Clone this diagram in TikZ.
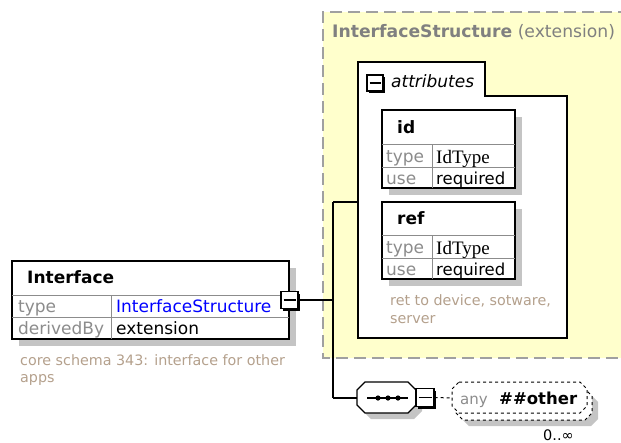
\documentclass[tikz,border=0pt]{standalone}
\usepackage{fontspec}
\setmainfont{DejaVu Sans}
\newfontfamily\serifid{Liberation Serif}
\usetikzlibrary{shadows,calc}
\definecolor{ylw}{RGB}{255,255,204}
\definecolor{dashgray}{RGB}{160,160,160}
\definecolor{shd}{RGB}{196,196,196}
\definecolor{cmt}{RGB}{180,160,140}
\definecolor{lbl}{RGB}{140,140,140}
\definecolor{ttlgray}{RGB}{128,128,128}
\definecolor{tblue}{RGB}{0,0,255}
\begin{document}
\begin{tikzpicture}[x=1pt,y=-1pt,
  tbl/.style={draw=black, line width=1.5pt, fill=white, inner sep=0pt,
    drop shadow={shadow xshift=7pt, shadow yshift=-7pt, fill=shd, opacity=1}},
  gline/.style={draw=lbl, line width=1pt},
  conn/.style={draw=black, line width=1.5pt},
  txt/.style={anchor=base west, inner sep=0pt, font=\fontsize{17}{20}\selectfont},
  keyt/.style={txt, text=lbl},
  hdr/.style={anchor=base west, inner sep=0pt, font=\fontsize{17}{20}\selectfont\bfseries},
  cmtt/.style={anchor=base west, inner sep=0pt, text=cmt, font=\fontsize{14.3}{17}\selectfont},
  mbx/.style={draw=black, fill=white, line width=1.2pt, inner sep=0pt,
    minimum width=16pt, minimum height=16pt,
    drop shadow={shadow xshift=2pt, shadow yshift=-2pt, fill=black, opacity=1},
    path picture={\draw[line width=1.2pt] ($(path picture bounding box.west)+(2.5pt,0)$) -- ($(path picture bounding box.east)+(-2.5pt,0)$);}}
]
\useasboundingbox (0,0) rectangle (621,442);

% yellow complex type region
\fill[ylw] (323,12) rectangle (630,358);
\draw[dashgray, line width=1.5pt, dash pattern=on 12pt off 6pt] (630,12) -- (323,12) -- (323,358) -- (630,358);
\node[anchor=base west, inner sep=0pt, text=ttlgray, font=\fontsize{17.2}{20}\selectfont] (ttl) at (332,37) {\textbf{InterfaceStructure} (extension)};

% attributes group
\draw[line width=1.5pt, fill=white] (358,62) -- (485,62) -- (485,96) -- (567,96) -- (567,338) -- (358,338) -- cycle;
\coordinate (attrW) at (358,202);
\node[mbx] (amin) at (375,83) {};
\node[anchor=base west, inner sep=0pt, font=\fontsize{17}{20}\itshape] (attrt) at (391,87) {attributes};

% id attribute
\node[tbl, minimum width=133pt, minimum height=78pt] (idt) at (448.5,149) {};
\draw[gline] (382,144) -- (515,144) (382,167) -- (515,167) (432,144) -- (432,188);
\node[hdr] (idh) at (397,133) {id};
\node[keyt] (idk1) at (386,162) {type};
\node[anchor=base west, inner sep=0pt, font=\fontsize{19}{20}\serifid] (idv1) at (436,163) {IdType};
\node[keyt] (idk2) at (386,184) {use};
\node[txt, font=\fontsize{16.5}{20}\selectfont] (idv2) at (436,184) {required};

% ref attribute
\node[tbl, minimum width=133pt, minimum height=77pt] (reft) at (448.5,240.5) {};
\draw[gline] (382,235) -- (515,235) (382,258) -- (515,258) (432,235) -- (432,279);
\node[hdr] (refh) at (397,224) {ref};
\node[keyt] (refk1) at (386,253) {type};
\node[anchor=base west, inner sep=0pt, font=\fontsize{19}{20}\serifid] (refv1) at (436,254) {IdType};
\node[keyt] (refk2) at (386,275) {use};
\node[txt, font=\fontsize{16.5}{20}\selectfont] (refv2) at (436,275) {required};
\node[cmtt] (refc1) at (390,305) {ret to device, sotware,};
\node[cmtt] (refc2) at (390,323) {server};

% Interface element
\node[tbl, minimum width=277pt, minimum height=78pt] (iface) at (150.5,300) {};
\draw[gline] (12,295) -- (289,295) (12,317) -- (289,317) (111,295) -- (111,339);
\node[hdr] (ifh) at (27,283) {Interface};
\node[keyt] (ifk1) at (18,312) {type};
\node[txt, text=tblue] (ifv1) at (116,312) {InterfaceStructure};
\node[keyt] (ifk2) at (18,334) {derivedBy};
\node[txt] (ifv2) at (116,334) {extension};
\node[cmtt] (ifc1) at (20,365) {core schema 343: interface for other};
\node[cmtt] (ifc2) at (20,382) {apps};
\node[mbx, minimum width=17pt, minimum height=17pt] (imin) at (289.5,300) {};

% connectors
\coordinate (j1) at (333,300);
\coordinate (j2) at (333,202);
\coordinate (j3) at (333,398);
\draw[conn] (imin.east) -- (j1);
\draw[conn] (j2) -- (j3);
\draw[conn] (j2) -- (attrW);

% sequence compositor
\fill[shd] (371,388) -- (414,388) -- (422,396) -- (422,411) -- (414,419) -- (371,419) -- (363,411) -- (363,396) -- cycle;
\draw[line width=1.2pt, fill=white] (365,382) -- (408,382) -- (416,390) -- (416,405) -- (408,413) -- (365,413) -- (357,405) -- (357,390) -- cycle;
\coordinate (seqW) at (357,398);
\draw[conn] (j3) -- (seqW);
\draw[line width=1.2pt] (367,398) -- (408,398);
\fill (378,398) circle (2.6) (388,398) circle (2.6) (398,398) circle (2.6);
\node[mbx, minimum width=18pt, minimum height=18pt] (smin) at (425,397.5) {};

% any ##other
\fill[shd] (469,395) -- (591,395) -- (598,402) -- (598,419) -- (591,426) -- (469,426) -- (462,419) -- (462,402) -- cycle;
\draw[line width=1pt, dashed, fill=white] (463,389) -- (585,389) -- (592,396) -- (592,413) -- (585,420) -- (463,420) -- (456,413) -- (456,396) -- cycle;
\draw[line width=1pt, dashed, fill=white] (459,382) -- (580,382) -- (587,389) -- (587,406) -- (580,413) -- (459,413) -- (452,406) -- (452,389) -- cycle;
\coordinate (anyW) at (452,398);
\draw[line width=1pt, dashed] (smin.east) -- (anyW);
\node[anchor=base west, inner sep=0pt, text=lbl, font=\fontsize{15}{18}\selectfont] (anyk) at (460,404) {any};
\node[anchor=base west, inner sep=0pt, font=\fontsize{16.5}{18}\bfseries] (anyv) at (499,404) {\#\#other};
\node[anchor=base west, inner sep=0pt, font=\fontsize{14.5}{16}\selectfont] (occ) at (543,440) {0..∞};
\end{tikzpicture}
\end{document}
